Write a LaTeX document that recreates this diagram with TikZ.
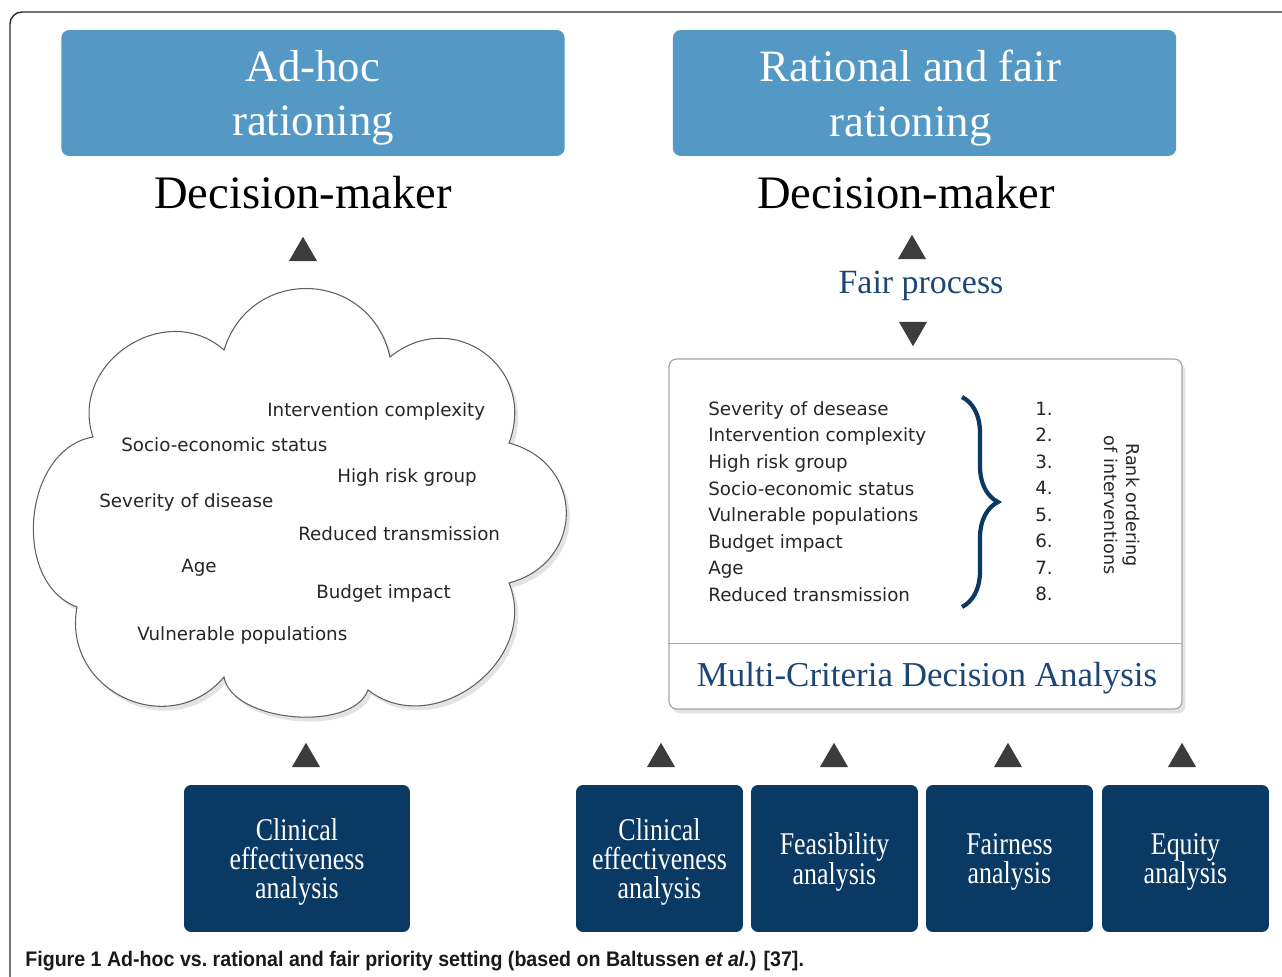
\documentclass[tikz,border=0pt]{standalone}
\usepackage{fontspec}
\setmainfont{Liberation Serif}
\newfontfamily\verdanafont{DejaVu Sans}
\newfontfamily\condserif[FakeStretch=0.82]{Liberation Serif}
\newfontfamily\capfont[FakeStretch=0.93]{Liberation Sans}
\usetikzlibrary{shapes.geometric,shadows,decorations.pathreplacing,calc}

\definecolor{hdrblue}{RGB}{84,152,197}
\definecolor{navy}{RGB}{10,57,99}
\definecolor{inkblue}{RGB}{28,70,118}
\definecolor{tricol}{RGB}{60,60,60}
\definecolor{framecol}{RGB}{45,45,45}

\begin{document}
\begin{tikzpicture}[x=0.02cm, y=-0.02cm,
    header/.style={fill=hdrblue, rounded corners=0.16cm, minimum width=10.07cm, minimum height=2.52cm,
        text=white, align=center, text depth=0pt, font=\fontsize{25.5}{31}\selectfont},
    dmaker/.style={font=\fontsize{26.5}{30}\selectfont},
    uptri/.style={regular polygon, regular polygon sides=3, fill=tricol, inner sep=0pt, minimum size=0.65cm},
    downtri/.style={uptri, regular polygon rotate=180},
    crit/.style={anchor=west, inner sep=0pt, font=\verdanafont\fontsize{10.4}{15.1}\selectfont, text=black!85},
    analysis/.style={fill=navy, rounded corners=0.14cm, minimum height=2.94cm, text=white, align=center,
        text depth=0pt, execute at begin node={\rule{0pt}{16.5pt}}, font=\condserif\fontsize{18}{16.7}\selectfont},
    bump/.style={bend left=75, looseness=#1},
    softshadow/.style={drop shadow={opacity=0.18, shadow xshift=2pt, shadow yshift=-2.5pt, fill=black!60}}]

    \useasboundingbox (0,0) rectangle (1282,977);
    \clip (0,0) rectangle (1282,977);
    \draw [framecol, line width=0.8pt, rounded corners=0.24cm] (10,12) rectangle (1330,1030);

    \node [header] (hdrAdhoc) at (313,93) {Ad-hoc\\rationing};
    \node [header] (hdrFair) at (924.5,93) {Rational and fair\hspace*{0.56cm}\\rationing\hspace*{0.56cm}};
    \node [dmaker] (dmAdhoc) at (303,193) {Decision-maker};
    \node [dmaker] (dmFair) at (906,193) {Decision-maker};

    \draw [gray!75!black, line width=0.6pt, fill=white, softshadow]
        (224,350) to[bump=1.38] (390,357) to[bump=1.41] (509,443) to[bump=1.45] (509,583)
        to[bump=1.2] (368,690) to[bump=0.81] (224,677) to[bump=1.34] (77,607)
        to[bump=1.06] (93,437) to[bump=1.27] (224,350) -- cycle;
    \node [crit] (cInterv) at (267,411) {Intervention complexity};
    \node [crit] (cSocio) at (121,445) {Socio-economic status};
    \node [crit] (cRisk) at (337,477) {High risk group};
    \node [crit] (cSeverity) at (99,502) {Severity of disease};
    \node [crit] (cTransm) at (298,534) {Reduced transmission};
    \node [crit] (cAge) at (181,568) {Age};
    \node [crit] (cBudget) at (316,593) {Budget impact};
    \node [crit] (cVulner) at (137,635) {Vulnerable populations};

    \node [uptri] (triAdhoc) at (303,253) {};
    \node [uptri] (triDm) at (912,251) {};
    \node [font=\fontsize{19.3}{22}\selectfont, text=inkblue] (fairProc) at (921,286) {Fair process};
    \node [downtri] (triMcda) at (913,330) {};

    \node [draw=gray!70, line width=0.7pt, rounded corners=0.15cm, fill=white, softshadow,
        minimum width=10.26cm, minimum height=7cm] (mcda) at (925.5,534) {};
    \draw [gray!70, line width=0.7pt] ($(mcda.south west)+(0,-66)$) -- ($(mcda.south east)+(0,-66)$);
    \node [font=\fontsize{19.9}{22}\selectfont, text=inkblue] (mcdaLabel) at (927,678) {Multi-Criteria Decision Analysis};
    \node [crit, align=left] (critList) at (708,501.5) {Severity of desease\\Intervention complexity\\High risk group\\
        Socio-economic status\\Vulnerable populations\\Budget impact\\Age\\Reduced transmission};
    \node [crit, align=left] (rankNums) at (1035,501.5) {1.\\2.\\3.\\4.\\5.\\6.\\7.\\8.};
    \draw [navy, line width=2.4pt, decorate, decoration={brace, amplitude=0.72cm}]
        (962,397) -- (962,607);
    \node [font=\verdanafont\fontsize{10}{12.5}\selectfont, text=black!85, rotate=-90, align=center]
        (rankLabel) at (1122,505) {Rank ordering\\of interventions};

    \node [uptri] (triClinL) at (306,759) {};
    \node [uptri] (triClinR) at (661,759) {};
    \node [uptri] (triFeas) at (834,759) {};
    \node [uptri] (triFairn) at (1008,759) {};
    \node [uptri] (triEquity) at (1182,759) {};
    \node [analysis, minimum width=4.52cm] (clinL) at (297,858.5) {Clinical\\effectiveness\\analysis};
    \node [analysis, minimum width=3.34cm] (clinR) at (659.5,858.5) {Clinical\\effectiveness\\analysis};
    \node [analysis, minimum width=3.34cm] (feas) at (834.5,858.5) {Feasibility\\analysis};
    \node [analysis, minimum width=3.34cm] (fairn) at (1009.5,858.5) {Fairness\\analysis};
    \node [analysis, minimum width=3.34cm] (equity) at (1185.5,858.5) {Equity\\analysis};

    \node [anchor=west, inner sep=0pt, font=\capfont\bfseries\fontsize{12}{14}\selectfont, text=black!90]
        (caption) at (25,961) {Figure 1 Ad-hoc vs.\ rational and fair priority setting (based on Baltussen \textit{et al.}) [37].};
\end{tikzpicture}
\end{document}
